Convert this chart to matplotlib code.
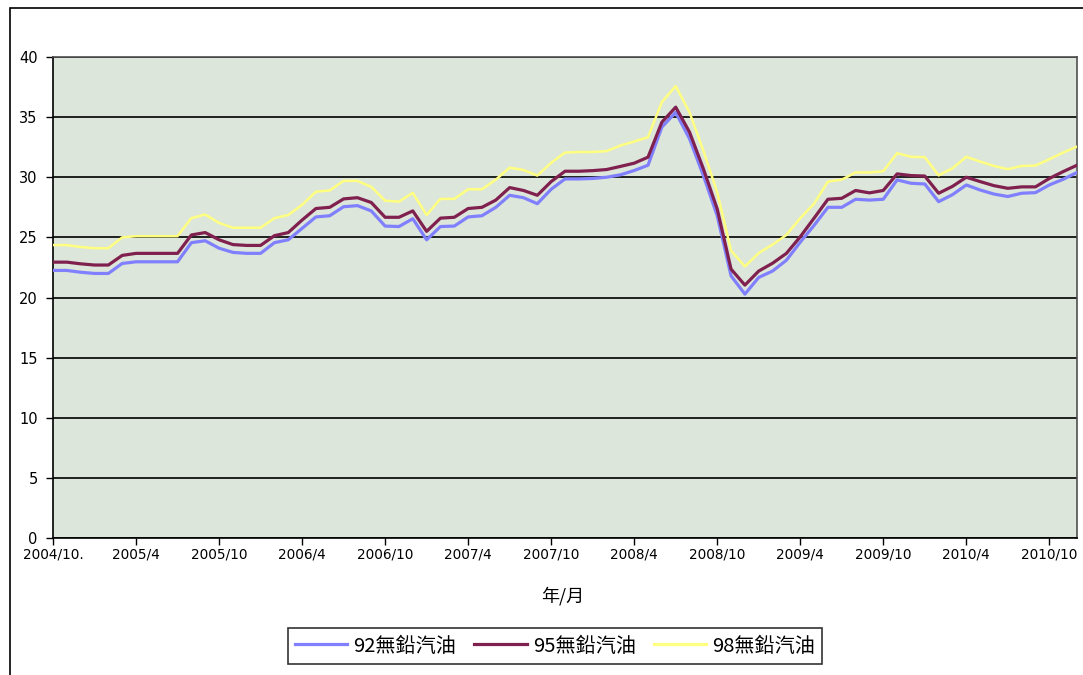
import numpy as np
import matplotlib.pyplot as plt
from matplotlib.patches import Rectangle

cjk = ['Noto Sans CJK TC', 'DejaVu Sans']

# monthly prices, 2004/10 .. 2010/12
months = ['2004/10.', '2005/4', '2005/10', '2006/4', '2006/10', '2007/4', '2007/10',
          '2008/4', '2008/10', '2009/4', '2009/10', '2010/4', '2010/10']

gas92 = [22.25, 22.25, 22.1, 22.0, 22.0, 22.83, 22.97, 22.97, 22.97, 22.97,
         24.56, 24.72, 24.1, 23.75, 23.67, 23.67, 24.56, 24.8, 25.75, 26.7,
         26.8, 27.55, 27.64, 27.2, 25.94, 25.9, 26.55, 24.8, 25.9, 25.94,
         26.7, 26.8, 27.5, 28.5, 28.3, 27.8, 29.0, 29.86, 29.86, 29.9,
         30.0, 30.2, 30.56, 31.0, 34.17, 35.4, 33.2, 30.14, 26.8, 21.8,
         20.28, 21.67, 22.2, 23.1, 24.6, 26.0, 27.5, 27.5, 28.17, 28.1,
         28.17, 29.78, 29.5, 29.44, 27.97, 28.55, 29.36, 28.94, 28.6, 28.4,
         28.67, 28.72, 29.36, 29.83, 30.4]

gas95 = [22.94, 22.94, 22.8, 22.7, 22.7, 23.5, 23.67, 23.67, 23.67, 23.67,
         25.2, 25.4, 24.8, 24.4, 24.33, 24.33, 25.14, 25.4, 26.44, 27.4,
         27.5, 28.2, 28.3, 27.9, 26.67, 26.67, 27.2, 25.5, 26.6, 26.67,
         27.4, 27.5, 28.1, 29.14, 28.9, 28.5, 29.64, 30.5, 30.5, 30.55,
         30.64, 30.9, 31.17, 31.67, 34.58, 35.83, 33.75, 30.7, 27.36, 22.36,
         21.03, 22.2, 22.85, 23.67, 25.05, 26.6, 28.17, 28.25, 28.9, 28.7,
         28.9, 30.28, 30.14, 30.1, 28.67, 29.24, 30.0, 29.64, 29.3, 29.08,
         29.2, 29.2, 29.9, 30.47, 31.0]

gas98 = [24.36, 24.36, 24.2, 24.1, 24.1, 25.0, 25.1, 25.1, 25.1, 25.1,
         26.6, 26.9, 26.2, 25.8, 25.8, 25.8, 26.6, 26.86, 27.7, 28.8,
         28.9, 29.7, 29.7, 29.2, 28.05, 27.97, 28.7, 26.86, 28.2, 28.2,
         29.0, 29.0, 29.8, 30.8, 30.6, 30.14, 31.2, 32.05, 32.1, 32.1,
         32.17, 32.64, 32.97, 33.33, 36.25, 37.58, 35.4, 32.2, 28.75, 23.9,
         22.58, 23.7, 24.4, 25.2, 26.6, 27.8, 29.64, 29.8, 30.4, 30.4,
         30.5, 32.0, 31.7, 31.67, 30.15, 30.75, 31.7, 31.3, 30.94, 30.67,
         30.94, 30.97, 31.5, 32.05, 32.55]

names = ['92無鉛汽油', '95無鉛汽油', '98無鉛汽油']
colors = ['#8080FF', '#80204F', '#FFFF80']

fig = plt.figure(figsize=(10.83, 6.75), dpi=100)
ax = fig.add_axes([53/1083, 1-538/675, (1077-53)/1083, (538-57)/675])
ax.set_facecolor('#DCE6DA')

x = np.arange(len(gas92))
ax.plot(x, gas92, color=colors[0], lw=2.3, label=names[0], zorder=3)
ax.plot(x, gas95, color=colors[1], lw=2.3, label=names[1], zorder=4)
ax.plot(x, gas98, color=colors[2], lw=1.8, label=names[2], zorder=5)

ax.set_xlim(0, len(gas92)-1)
ax.set_ylim(0, 40)
ax.set_yticks(range(0, 41, 5))
ax.set_xticks(range(0, len(gas92), 6))
ax.set_xticklabels(months, fontsize=9.8)
for lab in ax.get_yticklabels():
    lab.set_fontsize(10.5)
ax.tick_params(axis='y', direction='out', length=5, width=1, pad=6)
ax.tick_params(axis='x', direction='out', length=5, width=1, pad=2)
ax.grid(axis='y', color='black', lw=1.2, zorder=1)
ax.set_axisbelow(True)
for s in ['left', 'bottom']:
    ax.spines[s].set_color('black')
    ax.spines[s].set_linewidth(1.2)
for s in ['top', 'right']:
    ax.spines[s].set_color('#505050')
    ax.spines[s].set_linewidth(1.2)

fig.text(563/1083, 1-596/675, '年/月', family=cjk, fontsize=13, ha='center', va='center')

leg = fig.legend(loc='center', bbox_to_anchor=(555/1083, 1-646/675), ncol=3,
                 prop={'family': cjk, 'size': 14.5}, frameon=True, fancybox=False,
                 edgecolor='black', handlelength=2.6, handletextpad=0.3,
                 columnspacing=0.9, borderpad=0.35)
leg.get_frame().set_linewidth(1.2)
for h in leg.get_lines():
    h.set_linewidth(2.3)

# outer chart frame
fig.patches.append(Rectangle((10/1083, -0.1), 1.2, 1-8/675+0.1, transform=fig.transFigure,
                             fill=False, edgecolor='black', lw=1.2))

plt.savefig('out.png', dpi=100)
